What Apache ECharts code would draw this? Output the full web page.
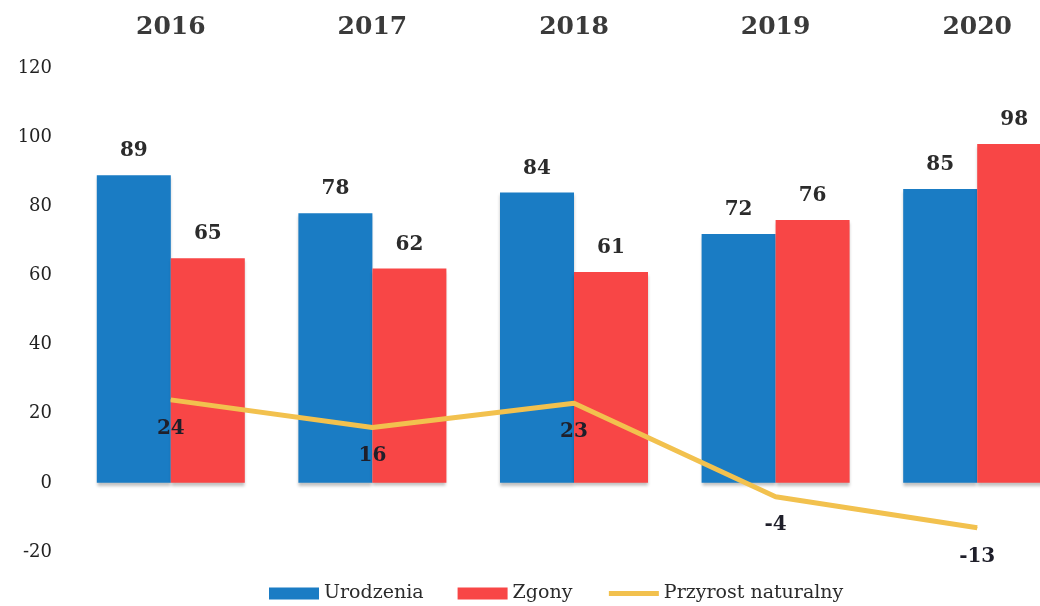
<!DOCTYPE html>
<html>
<head>
<meta charset="utf-8">
<script src="https://cdn.jsdelivr.net/npm/echarts@6/dist/echarts.min.js"></script>
<style>
  html, body { margin: 0; padding: 0; background: #fff; }
  #chart { width: 1040px; height: 606px; }
</style>
</head>
<body>
<div id="chart"></div>
<script>
var years = ['2016', '2017', '2018', '2019', '2020'];
var urodzenia = [89, 78, 84, 72, 85];
var zgony = [65, 62, 61, 76, 98];
var przyrost = [24, 16, 23, -4, -13];
var yTicks = [-20, 0, 20, 40, 60, 80, 100, 120];

var serif = '"DejaVu Serif", "Liberation Serif", serif';

var myChart = echarts.init(document.getElementById('chart'));
myChart.setOption({
    backgroundColor: '#fff',
    animation: false,
    grid: {
        left: 70,
        width: 1008, // wykres przycięty z prawej strony
        top: 68,
        bottom: 54,
        outerBoundsMode: 'none'
    },
    legend: { // legenda na dole
        bottom: -2,
        left: 264,
        itemWidth: 50,
        itemHeight: 12,
        itemGap: 34,
        textStyle: {
            fontFamily: serif,
            fontSize: 19,
            color: '#2b2b2b'
        },
        data: [
            { name: 'Urodzenia', icon: 'rect' },
            { name: 'Zgony', icon: 'rect' },
            { name: 'Przyrost naturalny', itemStyle: { opacity: 0 }, lineStyle: { width: 5 } }
        ]
    },
    xAxis: {
        type: 'category',
        position: 'top',
        data: years,
        axisLine: { show: false },
        axisTick: { show: false },
        axisLabel: {
            margin: 28,
            fontFamily: serif,
            fontWeight: 'bold',
            fontSize: 25,
            color: '#3a3a3a'
        }
    },
    yAxis: {
        type: 'value',
        min: yTicks[0],
        max: yTicks[yTicks.length - 1],
        interval: 20,
        splitLine: { show: false },
        axisLine: { show: false },
        axisTick: { show: false },
        axisLabel: {
            margin: 18,
            fontFamily: serif,
            fontSize: 18,
            color: '#222'
        }
    },
    series: [{
        name: 'Urodzenia',
        type: 'bar',
        data: urodzenia,
        barWidth: 74,
        barGap: '0%',
        itemStyle: {
            color: '#1a7cc4',
            shadowColor: 'rgba(0,0,0,0.25)',
            shadowBlur: 3,
            shadowOffsetY: 3
        },
        label: {
            show: true,
            position: 'top',
            distance: 14,
            fontFamily: serif,
            fontWeight: 'bold',
            fontSize: 20,
            color: '#2b2b2b'
        }
    }, {
        name: 'Zgony',
        type: 'bar',
        data: zgony,
        barWidth: 74,
        barGap: '0%',
        itemStyle: {
            color: '#f84646',
            shadowColor: 'rgba(0,0,0,0.25)',
            shadowBlur: 3,
            shadowOffsetY: 3
        },
        label: {
            show: true,
            position: 'top',
            distance: 14,
            fontFamily: serif,
            fontWeight: 'bold',
            fontSize: 20,
            color: '#2b2b2b'
        }
    }, {
        name: 'Przyrost naturalny',
        type: 'line',
        data: przyrost,
        symbol: 'circle',
        symbolSize: 1,
        z: 5,
        lineStyle: {
            color: '#f2c14e',
            width: 5
        },
        itemStyle: { color: '#f2c14e' },
        label: {
            show: true,
            position: 'bottom',
            distance: 18,
            fontFamily: serif,
            fontWeight: 'bold',
            fontSize: 20,
            color: '#1f1f2a'
        }
    }]
});
</script>
</body>
</html>
